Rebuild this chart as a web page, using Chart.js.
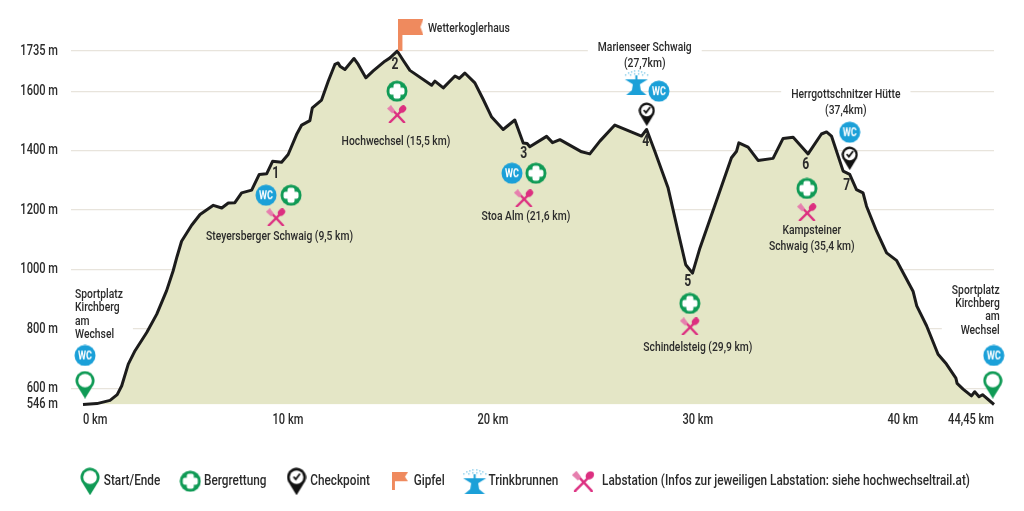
<!DOCTYPE html>
<html lang="de">
<head>
<meta charset="utf-8">
<title>Hochwechseltrail</title>
<style>
  html, body { margin: 0; padding: 0; background: #fff; }
  canvas { display: block; }
</style>
<script src="https://cdn.jsdelivr.net/npm/chart.js@4/dist/chart.umd.min.js"></script>
</head>
<body>
<canvas id="profile" width="1024" height="511"></canvas>
<script>
'use strict'

// profile
const profileKm = [
  0, 0.68, 1.32, 1.67, 1.89, 2.21, 2.54, 3.11, 3.6, 4.08, 4.4, 4.59, 4.81, 5.3, 5.71, 6.36, 6.77, 7.09,
  7.41, 7.74, 8.23, 8.6, 8.96, 9.25, 9.69, 10.01, 10.42, 10.67, 11.07, 11.19, 11.64, 11.97, 12.29, 12.45,
  12.54, 12.78, 13.22, 13.43, 13.8, 14.16, 14.73, 14.98, 15.33, 15.62, 15.95, 17.01, 17.17, 17.58, 18.15,
  18.36, 18.63, 19.12, 19.53, 19.94, 20.5, 21.07, 21.48, 21.67, 21.8, 22.62, 22.91, 23.27, 24.33, 24.73,
  25.22, 25.95, 27.25, 27.5, 27.9, 28.55, 29.12, 29.41, 29.74, 30.1, 30.99, 31.64, 31.89, 32, 32.45, 32.94,
  33.67, 34.16, 34.65, 35.38, 36.03, 36.28, 36.52, 37.09, 37.41, 37.74, 38.06, 38.23, 38.72, 39.21, 39.69,
  40.5, 40.68, 41.16, 41.72, 42.13, 42.59, 42.65, 42.94, 43.35, 43.51, 43.72, 43.89, 44.45
]
const profileAlt = [
  546, 549, 560, 579, 609, 682, 727, 788, 850, 929, 996, 1044, 1095, 1149, 1185, 1216, 1207, 1224,
  1225, 1258, 1267, 1320, 1322, 1364, 1361, 1387, 1454, 1486, 1501, 1544, 1570, 1634, 1690, 1695,
  1684, 1673, 1710, 1690, 1645, 1668, 1701, 1712, 1735, 1704, 1670, 1620, 1634, 1611, 1651,
  1643, 1661, 1628, 1572, 1513, 1471, 1503, 1426, 1424, 1413, 1448, 1427, 1437, 1396, 1389,
  1432, 1486, 1449, 1471, 1398, 1274, 1102, 1016, 988, 1072, 1247, 1376, 1398, 1426, 1412, 1367,
  1374, 1441, 1445, 1389, 1456, 1463, 1449, 1331, 1320, 1269, 1258, 1213, 1129, 1056, 1031,
  927, 878, 811, 715, 682, 635, 617, 598, 575, 589, 572, 579, 546
]

const xTicks = [0, 10, 20, 30, 40, 44.45]
const yTicks = [546, 600, 800, 1000, 1200, 1400, 1600, 1735]

// icons, placed on the km / altitude scales
const wcKm = [0.1, 8.93, 20.93, 28.1, 37.41, 44.44]
const wcAlt = [711, 1250, 1324, 1600, 1462, 711]
const rescueKm = [10.15, 15.32, 22.1, 29.61, 35.32]
const rescueAlt = [1250, 1600, 1324, 886, 1273]
const foodKm = [9.41, 15.32, 21.51, 29.61, 35.32]
const foodAlt = [1176, 1523, 1240, 809, 1193]
const startKm = [0.1, 44.39]
const startAlt = [613, 613]
const checkKm = [27.51, 37.41]
const checkAlt = [1523, 1375]
const summitKm = [16]
const summitAlt = [1789]
const fountainKm = [27]
const fountainAlt = [1630]

const stageNames = ['1', '2', '3', '4', '5', '6', '7']
const stageKm = [9.41, 15.22, 21.51, 27.46, 29.51, 35.27, 37.27]
const stageAlt = [1321, 1688, 1388, 1428, 957, 1351, 1280]

const placeLines = [
  ['Wetterkoglerhaus'],
  ['Marienseer Schwaig', '(27,7km)'],
  ['Herrgottschnitzer Hütte', '(37,4km)'],
  ['Steyersberger Schwaig (9,5 km)'],
  ['Hochwechsel (15,5 km)'],
  ['Stoa Alm (21,6 km)'],
  ['Schindelsteig (29,9 km)'],
  ['Kampsteiner', 'Schwaig (35,4 km)'],
  ['Sportplatz', 'Kirchberg', 'am', 'Wechsel'],
  ['Sportplatz', 'Kirchberg', 'am', 'Wechsel']
]
const placeKm = [16.83, 27.41, 37.22, 9.59, 15.27, 21.61, 30, 35.56, -0.39, 44.73]
const placeAlt = [1812, 1748, 1590, 1112, 1432, 1179, 738, 1132, 916, 930]
const placeAlign = ['left', 'center', 'center', 'center', 'center', 'center', 'center', 'center', 'left', 'right']
const placeBacked = [false, true, true, false, false, false, false, false, true, true]

const FONT = 'Roboto, sans-serif'
const NARROW = 0.76
const INK = '#2b2b2b'
const BLUE = '#1ba0d8'
const GREEN = '#0f9a55'
const PINK = '#dc2f80'
const ORANGE = '#ef8a5e'

// no condensed face is installed, so squeeze all text on this context
function condense(ctx) {
  const fill = ctx.fillText.bind(ctx)
  const measure = ctx.measureText.bind(ctx)
  ctx.fillText = (t, x, y) => {
    ctx.save()
    ctx.translate(x, y)
    ctx.scale(NARROW, 1)
    fill(t, 0, 0)
    ctx.restore()
  }
  ctx.measureText = (t) => ({ width: measure(t).width * NARROW })
  return ctx
}

function icon(w, h, paint) {
  const c = document.createElement('canvas')
  c.width = w
  c.height = h
  paint(c.getContext('2d'), w, h)
  return c
}

function pinIcon(w, h, color, check) {
  return icon(w, h, (ctx) => {
    const r = w / 2 - 0.5
    ctx.fillStyle = color
    ctx.beginPath()
    ctx.arc(w / 2, r + 0.5, r, Math.PI * 0.85, Math.PI * 0.15)
    ctx.lineTo(w / 2, h)
    ctx.closePath()
    ctx.fill()
    ctx.fillStyle = '#fff'
    ctx.beginPath()
    ctx.arc(w / 2, r + 0.5, r * 0.72, 0, Math.PI * 2)
    ctx.fill()
    if (check) {
      ctx.strokeStyle = color
      ctx.lineWidth = 1.8
      ctx.beginPath()
      ctx.moveTo(w / 2 - 3, r)
      ctx.lineTo(w / 2 - 0.8, r + 2.6)
      ctx.lineTo(w / 2 + 3.4, r - 3)
      ctx.stroke()
    }
  })
}

function wcIcon() {
  return icon(22, 22, (ctx) => {
    ctx.fillStyle = BLUE
    ctx.beginPath()
    ctx.arc(11, 11, 10.5, 0, Math.PI * 2)
    ctx.fill()
    condense(ctx)
    ctx.fillStyle = '#fff'
    ctx.font = 'bold 12px ' + FONT
    ctx.textAlign = 'center'
    ctx.textBaseline = 'middle'
    ctx.fillText('WC', 11, 11.5)
  })
}

function rescueIcon() {
  return icon(22, 22, (ctx) => {
    ctx.fillStyle = GREEN
    ctx.beginPath()
    ctx.arc(11, 11, 10.5, 0, Math.PI * 2)
    ctx.fill()
    ctx.fillStyle = '#fff'
    ctx.beginPath()
    ctx.roundRect(7.5, 3.5, 7, 15, 2)
    ctx.roundRect(3.5, 7.5, 15, 7, 2)
    ctx.fill()
  })
}

// pad leaves empty room on the right so the legend draws it left of its slot
function foodIcon(w, h, pad = 0) {
  return icon(w + pad, h, (ctx) => {
    ctx.lineCap = 'round'
    ctx.lineWidth = 2.4
    ctx.strokeStyle = PINK
    ctx.beginPath()
    ctx.moveTo(w * 0.24, h * 0.22)
    ctx.lineTo(w * 0.86, h * 0.96)
    ctx.moveTo(w * 0.74, h * 0.3)
    ctx.lineTo(w * 0.14, h * 0.96)
    ctx.stroke()
    // spoon bowl
    ctx.fillStyle = PINK
    ctx.beginPath()
    ctx.ellipse(w * 0.78, h * 0.22, w * 0.2, h * 0.18, -Math.PI / 4, 0, Math.PI * 2)
    ctx.fill()
    // fork head
    ctx.fillStyle = '#e67fae'
    ctx.beginPath()
    ctx.moveTo(0, h * 0.2)
    ctx.lineTo(w * 0.2, 0)
    ctx.lineTo(w * 0.4, h * 0.3)
    ctx.lineTo(w * 0.26, h * 0.46)
    ctx.closePath()
    ctx.fill()
  })
}

function flagIcon(w, h, pole) {
  return icon(w, h, (ctx) => {
    const flagH = h * 0.5
    ctx.fillStyle = ORANGE
    ctx.fillRect(0, 0, pole, h)
    ctx.beginPath()
    ctx.moveTo(0, 0)
    ctx.lineTo(w, 0)
    ctx.lineTo(w - 3, flagH / 2)
    ctx.lineTo(w, flagH)
    ctx.lineTo(0, flagH)
    ctx.closePath()
    ctx.fill()
  })
}

function fountainIcon() {
  return icon(27, 26, (ctx) => {
    ctx.fillStyle = BLUE
    ctx.beginPath()
    ctx.moveTo(2, 10)
    ctx.lineTo(25, 10)
    ctx.lineTo(17, 15)
    ctx.lineTo(18, 21)
    ctx.lineTo(24, 26)
    ctx.lineTo(3, 26)
    ctx.lineTo(9, 21)
    ctx.lineTo(10, 15)
    ctx.closePath()
    ctx.fill()
    ctx.fillRect(12.5, 6, 2, 5)
    // spray dots
    ctx.fillStyle = '#7cc8e8'
    for (const [x, y] of [[2, 5], [5, 3], [8, 2], [11, 1], [15, 1], [18, 2], [21, 3], [24, 5], [7, 5], [11, 4], [15, 4], [19, 5]]) {
      ctx.fillRect(x, y, 1.4, 1.4)
    }
  })
}

function xy(kms, alts) {
  return kms.map((km, i) => ({ x: km, y: alts[i] }))
}

function iconSet(label, kms, alts, style, legendStyle) {
  return {
    type: 'scatter',
    label,
    data: xy(kms, alts),
    pointStyle: style,
    legendIcon: legendStyle || style,
    pointRadius: 12,
    hoverRadius: 12,
    clip: false,
    order: 1
  }
}

// white patch under captions that sit on the grid lines, then the captions
const placeCaptions = {
  id: 'placeCaptions',
  // legend sits a little right of the plot centre
  afterLayout(chart) {
    chart.legend.left += 30
    chart.legend.right += 30
  },
  beforeDatasetsDraw(chart) {
    const { ctx, scales } = chart
    ctx.save()
    ctx.font = '500 13.6px ' + FONT
    ctx.fillStyle = '#fff'
    placeLines.forEach((lines, i) => {
      if (!placeBacked[i]) return
      const w = Math.max(...lines.map((t) => ctx.measureText(t).width))
      const x = scales.x.getPixelForValue(placeKm[i])
      const y = scales.y.getPixelForValue(placeAlt[i])
      const left = placeAlign[i] === 'center' ? x - w / 2 : placeAlign[i] === 'right' ? x - w : x
      ctx.fillRect(left - 10, y - 9, w + 20, lines.length * 14.5 + 6)
    })
    ctx.restore()
  },
  afterDatasetsDraw(chart) {
    const { ctx, scales } = chart
    ctx.save()
    ctx.fillStyle = INK
    ctx.textBaseline = 'middle'
    ctx.font = '500 13.6px ' + FONT
    placeLines.forEach((lines, i) => {
      const lead = lines.length > 2 ? 13.3 : 16
      ctx.textAlign = placeAlign[i]
      lines.forEach((t, n) => {
        ctx.fillText(
          t,
          scales.x.getPixelForValue(placeKm[i]),
          scales.y.getPixelForValue(placeAlt[i]) + n * lead
        )
      })
    })
    ctx.font = '700 16px ' + FONT
    ctx.textAlign = 'center'
    stageNames.forEach((t, i) => {
      ctx.fillText(t, scales.x.getPixelForValue(stageKm[i]), scales.y.getPixelForValue(stageAlt[i]))
    })
    ctx.restore()
  }
}

const tickFont = { family: FONT, size: 14.6, weight: '500' }
const canvas = document.getElementById('profile')
condense(canvas.getContext('2d'))

new Chart(canvas, {
  data: {
    datasets: [
      {
        type: 'line',
        label: 'Profil',
        data: xy(profileKm, profileAlt),
        borderColor: '#1c1c1c',
        borderWidth: 3,
        borderJoinStyle: 'round',
        backgroundColor: '#e4e6c6',
        fill: 'start',
        pointRadius: 0,
        tension: 0,
        clip: false,
        order: 2
      },
      iconSet('Start/Ende', startKm, startAlt, pinIcon(20, 28, GREEN)),
      iconSet('Bergrettung', rescueKm, rescueAlt, rescueIcon()),
      iconSet('Checkpoint', checkKm, checkAlt, pinIcon(17, 24, '#111', true), pinIcon(20, 28, '#111', true)),
      iconSet('Gipfel', summitKm, summitAlt, flagIcon(25, 32, 4), flagIcon(16, 18, 3)),
      iconSet('Trinkbrunnen', fountainKm, fountainAlt, fountainIcon()),
      iconSet('Labstation (Infos zur jeweiligen Labstation: siehe hochwechseltrail.at)', foodKm, foodAlt, foodIcon(20, 18), foodIcon(23, 21, 10)),
      iconSet('WC', wcKm, wcAlt, wcIcon())
    ]
  },
  plugins: [placeCaptions],
  options: {
    responsive: false,
    animation: false,
    layout: { padding: { left: 0, right: 30, top: 0, bottom: 12 } },
    events: [],
    scales: {
      x: {
        type: 'linear',
        min: -0.585,
        max: 44.45,
        afterBuildTicks: (s) => {
          s.ticks = xTicks.map((value) => ({ value }))
        },
        afterFit: (s) => {
          s.height = 45
          s.paddingLeft = 0
          s.paddingRight = 0
        },
        grid: { display: false, drawTicks: false },
        border: { display: false },
        ticks: {
          autoSkip: false,
          maxRotation: 0,
          align: 'inner',
          padding: 7,
          color: INK,
          font: tickFont,
          callback: (v) => String(v).replace('.', ',') + ' km'
        }
      },
      y: {
        type: 'linear',
        min: 546,
        max: 1863,
        afterBuildTicks: (s) => {
          s.ticks = yTicks.map((value) => ({ value }))
        },
        afterFit: (s) => {
          s.width = 71
          s.paddingTop = 0
          s.paddingBottom = 0
        },
        grid: {
          drawTicks: false,
          lineWidth: 1.2,
          color: (c) => (c.tick && c.tick.value === 546 ? 'rgba(0,0,0,0)' : '#e8e4dc')
        },
        border: { display: false },
        ticks: {
          autoSkip: false,
          padding: 13,
          color: INK,
          font: tickFont,
          callback: (v) => v + ' m'
        }
      }
    },
    plugins: {
      tooltip: { enabled: false },
      legend: {
        position: 'bottom',
        labels: {
          usePointStyle: true,
          pointStyleWidth: 12,
          padding: 24,
          color: INK,
          font: { family: FONT, size: 15.5, weight: '500' },
          filter: (item) => item.text !== 'Profil' && item.text !== 'WC',
          generateLabels: (chart) =>
            Chart.defaults.plugins.legend.labels.generateLabels(chart).map((item) => {
              const set = chart.data.datasets[item.datasetIndex]
              if (set.legendIcon) item.pointStyle = set.legendIcon
              return item
            })
        }
      }
    }
  }
})
</script>
</body>
</html>
